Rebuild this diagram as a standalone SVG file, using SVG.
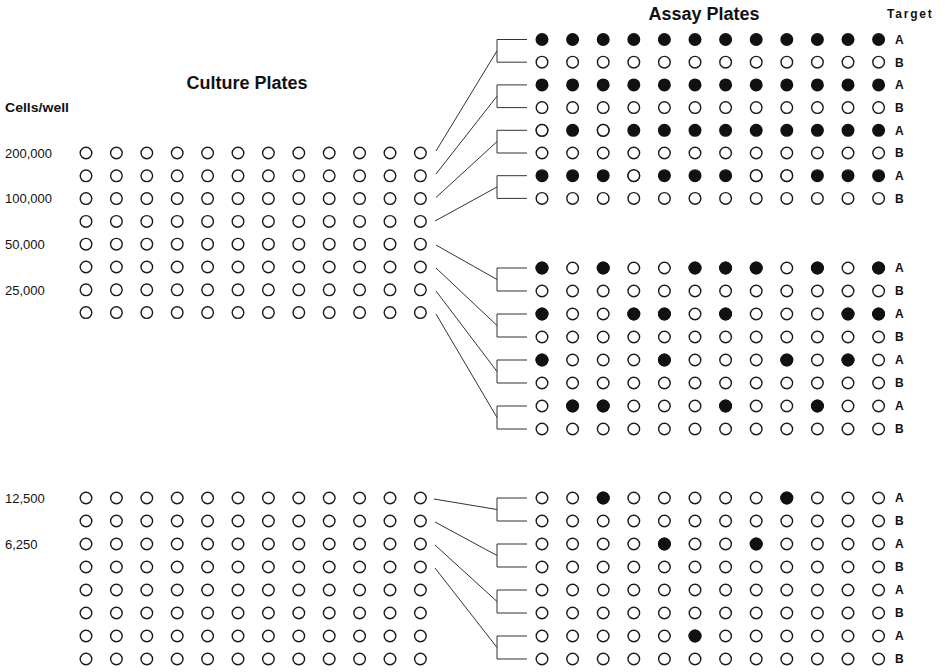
<svg xmlns="http://www.w3.org/2000/svg" xmlns:xlink="http://www.w3.org/1999/xlink" width="945" height="672" viewBox="0 0 945 672">
<style>
text{font-family:"Liberation Sans",Arial,sans-serif;fill:#111}
.t{font-size:18px;font-weight:bold}
.lbl{font-size:13px}
.ab{font-size:12px;font-weight:bold}
.w{fill:#fff;stroke:#1a1a1a;stroke-width:1.4}
.f{fill:#111;stroke:#111;stroke-width:1.4}
.c{fill:none;stroke:#333;stroke-width:1}
</style>
<defs>
<g id="crow">
<circle class="w" cx="86" r="5.8"/><circle class="w" cx="116.4" r="5.8"/><circle class="w" cx="146.8" r="5.8"/><circle class="w" cx="177.2" r="5.8"/><circle class="w" cx="207.6" r="5.8"/><circle class="w" cx="238" r="5.8"/><circle class="w" cx="268.4" r="5.8"/><circle class="w" cx="298.8" r="5.8"/><circle class="w" cx="329.2" r="5.8"/><circle class="w" cx="359.6" r="5.8"/><circle class="w" cx="390" r="5.8"/><circle class="w" cx="420.4" r="5.8"/>
</g>
<g id="arow">
<circle class="w" cx="542" r="5.8"/><circle class="w" cx="572.6" r="5.8"/><circle class="w" cx="603.2" r="5.8"/><circle class="w" cx="633.8" r="5.8"/><circle class="w" cx="664.4" r="5.8"/><circle class="w" cx="695" r="5.8"/><circle class="w" cx="725.6" r="5.8"/><circle class="w" cx="756.2" r="5.8"/><circle class="w" cx="786.8" r="5.8"/><circle class="w" cx="817.4" r="5.8"/><circle class="w" cx="848" r="5.8"/><circle class="w" cx="878.6" r="5.8"/>
</g>
<g id="frow">
<circle class="f" cx="542" r="5.8"/><circle class="f" cx="572.6" r="5.8"/><circle class="f" cx="603.2" r="5.8"/><circle class="f" cx="633.8" r="5.8"/><circle class="f" cx="664.4" r="5.8"/><circle class="f" cx="695" r="5.8"/><circle class="f" cx="725.6" r="5.8"/><circle class="f" cx="756.2" r="5.8"/><circle class="f" cx="786.8" r="5.8"/><circle class="f" cx="817.4" r="5.8"/><circle class="f" cx="848" r="5.8"/><circle class="f" cx="878.6" r="5.8"/>
</g>
</defs>

<g id="titles">
<text class="t" x="247" y="89" text-anchor="middle">Culture Plates</text>
<text class="t" x="704" y="20" text-anchor="middle">Assay Plates</text>
<text x="887" y="18" style="font-size:12px;font-weight:bold;letter-spacing:1.8px">Target</text>
<text x="5" y="112" style="font-size:13px;font-weight:bold" textLength="64" lengthAdjust="spacingAndGlyphs">Cells/well</text>
</g>

<g id="cell-labels">
<text class="lbl" x="5" y="157.5">200,000</text>
<text class="lbl" x="5" y="203">100,000</text>
<text class="lbl" x="5" y="248.5">50,000</text>
<text class="lbl" x="5" y="294.5">25,000</text>
<text class="lbl" x="5" y="502.5">12,500</text>
<text class="lbl" x="5" y="548.5">6,250</text>
</g>

<g id="culture-plate-1">
<use xlink:href="#crow" y="153"/><use xlink:href="#crow" y="175.8"/><use xlink:href="#crow" y="198.6"/><use xlink:href="#crow" y="221.4"/><use xlink:href="#crow" y="244.2"/><use xlink:href="#crow" y="267"/><use xlink:href="#crow" y="289.8"/><use xlink:href="#crow" y="312.6"/>
</g>
<g id="culture-plate-2">
<use xlink:href="#crow" y="498"/><use xlink:href="#crow" y="521"/><use xlink:href="#crow" y="544"/><use xlink:href="#crow" y="567"/><use xlink:href="#crow" y="590"/><use xlink:href="#crow" y="613"/><use xlink:href="#crow" y="636"/><use xlink:href="#crow" y="659"/>
</g>

<g id="assay-plate-1">
<use xlink:href="#frow" y="39.5"/>
<use xlink:href="#arow" y="62.2"/>
<use xlink:href="#frow" y="84.9"/>
<use xlink:href="#arow" y="107.6"/>
<use xlink:href="#frow" y="130.3"/>
<circle class="w" cx="542" cy="130.3" r="5.8"/><circle class="w" cx="603.2" cy="130.3" r="5.8"/>
<use xlink:href="#arow" y="153"/>
<use xlink:href="#frow" y="175.7"/>
<circle class="w" cx="633.8" cy="175.7" r="5.8"/><circle class="w" cx="756.2" cy="175.7" r="5.8"/><circle class="w" cx="786.8" cy="175.7" r="5.8"/>
<use xlink:href="#arow" y="198.4"/>
</g>

<g id="assay-plate-2">
<use xlink:href="#arow" y="268"/>
<circle class="f" cx="542" cy="268" r="5.8"/><circle class="f" cx="603.2" cy="268" r="5.8"/><circle class="f" cx="695" cy="268" r="5.8"/><circle class="f" cx="725.6" cy="268" r="5.8"/><circle class="f" cx="756.2" cy="268" r="5.8"/><circle class="f" cx="817.4" cy="268" r="5.8"/><circle class="f" cx="878.6" cy="268" r="5.8"/>
<use xlink:href="#arow" y="291"/>
<use xlink:href="#arow" y="314"/>
<circle class="f" cx="542" cy="314" r="5.8"/><circle class="f" cx="633.8" cy="314" r="5.8"/><circle class="f" cx="664.4" cy="314" r="5.8"/><circle class="f" cx="725.6" cy="314" r="5.8"/><circle class="f" cx="848" cy="314" r="5.8"/><circle class="f" cx="878.6" cy="314" r="5.8"/>
<use xlink:href="#arow" y="337"/>
<use xlink:href="#arow" y="360"/>
<circle class="f" cx="542" cy="360" r="5.8"/><circle class="f" cx="664.4" cy="360" r="5.8"/><circle class="f" cx="786.8" cy="360" r="5.8"/><circle class="f" cx="848" cy="360" r="5.8"/>
<use xlink:href="#arow" y="383"/>
<use xlink:href="#arow" y="406"/>
<circle class="f" cx="572.6" cy="406" r="5.8"/><circle class="f" cx="603.2" cy="406" r="5.8"/><circle class="f" cx="725.6" cy="406" r="5.8"/><circle class="f" cx="817.4" cy="406" r="5.8"/>
<use xlink:href="#arow" y="429"/>
</g>

<g id="assay-plate-3">
<use xlink:href="#arow" y="498"/>
<circle class="f" cx="603.2" cy="498" r="5.8"/><circle class="f" cx="786.8" cy="498" r="5.8"/>
<use xlink:href="#arow" y="521"/>
<use xlink:href="#arow" y="544"/>
<circle class="f" cx="664.4" cy="544" r="5.8"/><circle class="f" cx="756.2" cy="544" r="5.8"/>
<use xlink:href="#arow" y="567"/>
<use xlink:href="#arow" y="590"/>
<use xlink:href="#arow" y="613"/>
<use xlink:href="#arow" y="636"/>
<circle class="f" cx="695" cy="636" r="5.8"/>
<use xlink:href="#arow" y="659"/>
</g>

<g id="target-labels">
<text class="ab" x="895" y="43.8">A</text><text class="ab" x="895" y="66.5">B</text>
<text class="ab" x="895" y="89.2">A</text><text class="ab" x="895" y="111.9">B</text>
<text class="ab" x="895" y="134.6">A</text><text class="ab" x="895" y="157.3">B</text>
<text class="ab" x="895" y="180">A</text><text class="ab" x="895" y="202.7">B</text>
<text class="ab" x="895" y="272.3">A</text><text class="ab" x="895" y="295.3">B</text>
<text class="ab" x="895" y="318.3">A</text><text class="ab" x="895" y="341.3">B</text>
<text class="ab" x="895" y="364.3">A</text><text class="ab" x="895" y="387.3">B</text>
<text class="ab" x="895" y="410.3">A</text><text class="ab" x="895" y="433.3">B</text>
<text class="ab" x="895" y="502.3">A</text><text class="ab" x="895" y="525.3">B</text>
<text class="ab" x="895" y="548.3">A</text><text class="ab" x="895" y="571.3">B</text>
<text class="ab" x="895" y="594.3">A</text><text class="ab" x="895" y="617.3">B</text>
<text class="ab" x="895" y="640.3">A</text><text class="ab" x="895" y="663.3">B</text>
</g>

<g id="connectors">
<path class="c" d="M527,39.5 H497 V62.2 H527"/>
<path class="c" d="M527,84.9 H497 V107.6 H527"/>
<path class="c" d="M527,130.3 H497 V153 H527"/>
<path class="c" d="M527,175.7 H497 V198.4 H527"/>
<path class="c" d="M527,268 H497 V291 H527"/>
<path class="c" d="M527,314 H497 V337 H527"/>
<path class="c" d="M527,360 H497 V383 H527"/>
<path class="c" d="M527,406 H497 V429 H527"/>
<path class="c" d="M527,498 H497 V521 H527"/>
<path class="c" d="M527,544 H497 V567 H527"/>
<path class="c" d="M527,590 H497 V613 H527"/>
<path class="c" d="M527,636 H497 V659 H527"/>
<line class="c" x1="436" y1="151" x2="497" y2="50.8"/>
<line class="c" x1="436" y1="174" x2="497" y2="96.2"/>
<line class="c" x1="436" y1="197.5" x2="497" y2="141.6"/>
<line class="c" x1="435" y1="221" x2="497" y2="187"/>
<line class="c" x1="436" y1="245" x2="497" y2="279.5"/>
<line class="c" x1="436" y1="268" x2="497" y2="325.5"/>
<line class="c" x1="436" y1="291" x2="497" y2="371.5"/>
<line class="c" x1="436" y1="314" x2="497" y2="417.5"/>
<line class="c" x1="434" y1="499" x2="497" y2="509.5"/>
<line class="c" x1="435" y1="522" x2="497" y2="555.5"/>
<line class="c" x1="435" y1="545" x2="497" y2="601.5"/>
<line class="c" x1="435" y1="568" x2="497" y2="647.5"/>
</g>
</svg>
